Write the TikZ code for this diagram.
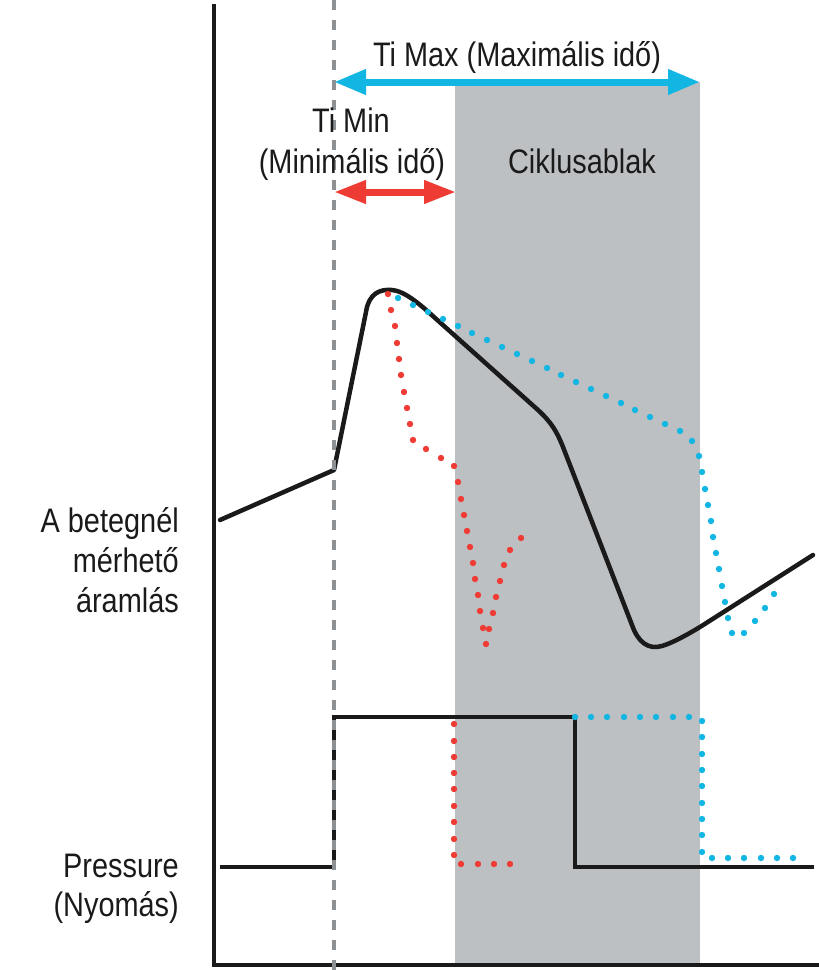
\documentclass[tikz,border=0pt]{standalone}
\usepackage{fontspec}
\setmainfont{Liberation Sans}[FakeStretch=0.85]
\usetikzlibrary{arrows.meta}
\definecolor{cyanc}{HTML}{12B6E2}
\definecolor{redc}{HTML}{EE3B33}
\definecolor{windowgrey}{HTML}{BDC0C3}
\definecolor{dashgrey}{HTML}{8E9194}
\definecolor{inkc}{HTML}{1A1A1A}
\tikzset{
  lbl/.style={inner sep=0pt, font=\fontsize{34}{40}\selectfont, text=inkc},
  curve/.style={draw=inkc, line width=4.5pt, line cap=round, line join=round},
  axisline/.style={draw=inkc, line width=4pt},
  reddot/.style={fill=redc},
  cyandot/.style={fill=cyanc},
}
\begin{document}
\begin{tikzpicture}[x=1pt,y=-1pt]
\useasboundingbox (0,0) rectangle (819,970);
% cycle window
\fill[windowgrey] (455,82) rectangle (700,965);
% axes
\coordinate (axtop) at (214,4);
\coordinate (axorig) at (214,965);
\coordinate (axright) at (819,965);
\draw[axisline] (axtop) -- (axorig) -- (axright);
% pressure curve
\draw[curve, line cap=butt, line join=miter] (220,867) -- (334,867) -- (334,717) -- (575,717) -- (575,867) -- (814,867);
% flow curve
\draw[curve] (220,520) -- (334,470) -- (366,312)
  .. controls (369,293) and (380,289) .. (392,290)
  .. controls (402,291) and (412,298) .. (425,309)
  -- (538,410)
  .. controls (552,423) and (557,432) .. (563,447)
  -- (632,625)
  .. controls (638,642) and (648,650) .. (662,646)
  .. controls (672,643) and (685,636) .. (700,627)
  -- (813,555);
% grey dashed start line
\coordinate (dtop) at (334,0);
\coordinate (dbot) at (334,970);
\draw[dashgrey, line width=4.5pt, dash pattern=on 10pt off 10pt] (dtop) -- (dbot);
% red dotted flow
\foreach \p in {(388,294),(391,310),(395,326),(397,343),(399,359),(401,375),(404,392),(407,408),(410,424),(413,440),(426,449),(441,458),(454,466),(458,482),(461,499),(464,515),(467,531),(470,547),(473,563),(475,579),(478,595),(480,611),(483,628),(486,644),(489,629),(493,613),(496,597),(500,581),(504,565),(510,550),(521,538)}
  \fill[reddot] \p circle (3.2pt);
% cyan dotted flow
\foreach \p in {(398,298),(413,305),(428,312),(443,319),(458,326),(472,333),(487,340),(502,347),(517,354),(532,361),(547,368),(561,375),(576,382),(591,389),(606,396),(621,403),(635,410),(650,417),(665,424),(680,431),(692,441),(699,456),(702,472),(705,489),(708,505),(711,521),(713,537),(716,553),(719,569),(722,586),(725,602),(728,618),(732,633),(744,633),(755,621),(765,608),(774,594)}
  \fill[cyandot] \p circle (3.2pt);
% red dotted pressure
\foreach \y in {724,741,757,773,789,806,822,839,855}
  \fill[reddot] (454,\y) circle (3.2pt);
\foreach \x in {461,478,494,510}
  \fill[reddot] (\x,864) circle (3.2pt);
% cyan dotted pressure
\foreach \x in {575,591,607,624,640,656,673,689}
  \fill[cyandot] (\x,717) circle (3.2pt);
\foreach \y in {721,737,754,770,786,803,819,835,852}
  \fill[cyandot] (702,\y) circle (3.2pt);
\foreach \x in {712,728,744,761,777,793}
  \fill[cyandot] (\x,858) circle (3.2pt);
% arrows
\coordinate (maxL) at (334,82);
\coordinate (maxR) at (700,82);
\draw[cyanc, line width=7pt, {Triangle[length=32pt,width=24pt]}-{Triangle[length=32pt,width=24pt]}] (maxL) -- (maxR);
\coordinate (minL) at (334,192);
\coordinate (minR) at (456,192);
\draw[redc, line width=7pt, {Triangle[length=32pt,width=22pt]}-{Triangle[length=32pt,width=22pt]}] (minL) -- (minR);
% texts
\node[lbl, anchor=base] (timax) at (517,66) {Ti Max (Maximális idő)};
\node[lbl, anchor=base] (timin1) at (351,132) {Ti Min};
\node[lbl, anchor=base] (timin2) at (352,173) {(Minimális idő)};
\node[lbl, anchor=base] (cikl) at (582,173) {Ciklusablak};
\node[lbl, anchor=base east] (flow1) at (179,532) {A betegnél};
\node[lbl, anchor=base east] (flow2) at (179,572) {mérhető};
\node[lbl, anchor=base east] (flow3) at (179,612) {áramlás};
\node[lbl, anchor=base east] (pr1) at (179,877) {Pressure};
\node[lbl, anchor=base east] (pr2) at (179,916) {(Nyomás)};
\end{tikzpicture}
\end{document}
